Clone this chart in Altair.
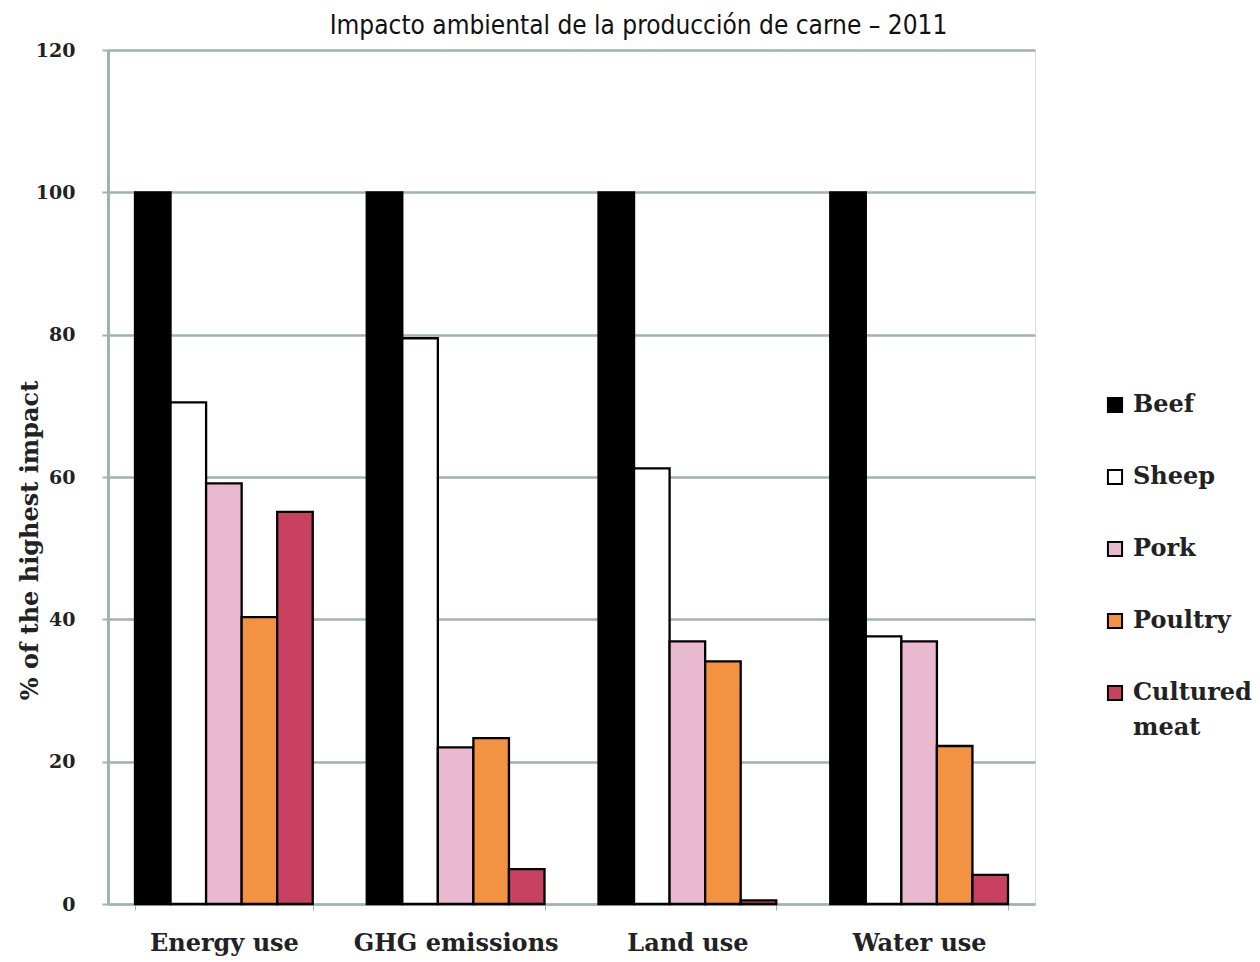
import altair as alt
import pandas as pd

categories = ["Energy use", "GHG emissions", "Land use", "Water use"]
meats = ["Beef", "Sheep", "Pork", "Poultry", "Cultured meat"]
beef = [100, 100, 100, 100]
sheep = [70.5, 79.5, 61.2, 37.6]
pork = [59.1, 22.0, 36.9, 36.9]
poultry = [40.3, 23.3, 34.1, 22.2]
cultured = [55.1, 4.9, 0.5, 4.1]
colors = ["#000000", "#ffffff", "#e9b9d0", "#f39240", "#c84161"]
y_ticks = [0, 20, 40, 60, 80, 100, 120]

series = [beef, sheep, pork, poultry, cultured]
rows = []
for m, vals in zip(meats, series):
    for c, v in zip(categories, vals):
        rows.append({"category": c, "meat": m, "value": v})
df = pd.DataFrame(rows)

SERIF = "DejaVu Serif"
GRID = "#9fb3b1"

chart = alt.Chart(df).mark_bar(stroke="black", strokeWidth=2.3).encode(
    x=alt.X("category:N", sort=categories,
            scale=alt.Scale(paddingInner=0.233, paddingOuter=0.1165),
            axis=alt.Axis(title=None, labelAngle=0, labelFont=SERIF, labelFontWeight="bold",
                          labelFontSize=24, labelColor="#222222", labelPadding=21,
                          labelLimit=400, labelBaseline="top",
                          tickBand="extent", tickSize=6, tickColor=GRID, domainColor=GRID,
                          domainWidth=2, grid=False)),
    xOffset=alt.XOffset("meat:N", sort=meats, scale=alt.Scale(paddingInner=0, paddingOuter=0)),
    y=alt.Y("value:Q", scale=alt.Scale(domain=[0, 120], nice=False),
            axis=alt.Axis(values=y_ticks, title="% of the highest impact",
                          titleFont=SERIF, titleFontWeight="bold", titleFontSize=24,
                          titleColor="#222222", titleX=-78, titleY=490, titleAngle=-90,
                          titleBaseline="middle", titleAlign="center",
                          labelFont=SERIF, labelFontWeight="bold", labelFontSize=19,
                          labelColor="#222222", labelPadding=27, tickSize=6, tickColor=GRID,
                          tickWidth=2, domainColor=GRID, domainWidth=3,
                          gridColor=GRID, gridWidth=2.5)),
    fill=alt.Fill("meat:N", sort=meats,
                  scale=alt.Scale(domain=meats, range=colors),
                  legend=alt.Legend(title=None, orient="none", legendX=995, legendY=343,
                                    symbolType="square", symbolSize=200,
                                    symbolStrokeColor="black", symbolStrokeWidth=2,
                                    labelFont=SERIF, labelFontWeight="bold", labelFontSize=24,
                                    labelColor="#222222", rowPadding=48, labelOffset=6,
                                    labelLimit=200,
                                    labelExpr="datum.label == 'Cultured meat' ? ['Cultured', 'meat'] : datum.label")),
).properties(
    width=927,
    height=854,
    title=alt.TitleParams("Impacto ambiental de la producción de carne – 2011",
                          font="DejaVu Sans Condensed, Liberation Sans", fontSize=26,
                          fontWeight="normal", color="#111111", dx=67, dy=-2, offset=0),
    autosize=alt.AutoSizeParams(type="none"),
    padding={"left": 100, "top": 42, "right": 217, "bottom": 56},
).configure_view(stroke=None).configure(
    background="white",
    style={"guide-label": {"lineHeight": 35}},
)

chart.save("out.html", embed_options={"renderer": "svg", "actions": False})
